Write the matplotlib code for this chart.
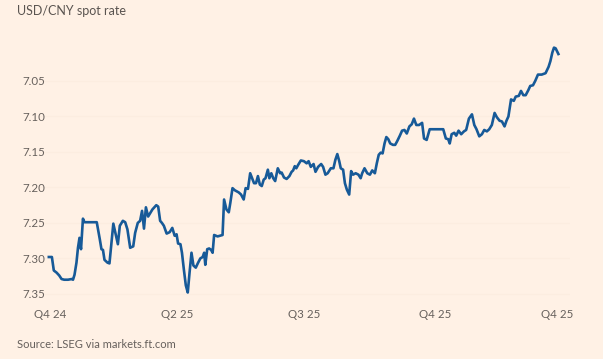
import matplotlib
matplotlib.use('Agg')
import matplotlib.pyplot as plt
import numpy as np

# USD/CNY spot rate (x = days since first point)
days = [0, 2.2, 3.6, 5.6, 7.5, 9.2, 11.1, 13.9, 16.7, 17.5, 18.6, 20, 21.1, 22.2, 23.3,
        24.7, 25.8, 34.7, 36.9, 38.1, 39.2, 40.3, 42.5, 43.9, 46.7, 48.6, 50, 51.4, 53.6,
        55.3, 56.9, 58.9, 61.1, 62.5, 64.4, 66.1, 67.5, 68.9, 70.3, 71.9, 75, 77.8, 79.2,
        80.6, 81.9, 83.3, 85.3, 87.5, 89.4, 91.1, 92.5, 93.6, 95.3, 96.4, 97.8, 99.2, 100.6,
        101.9, 103.3, 104.7, 106.4, 108.1, 109.7, 111.4, 112.5, 113.3, 114.7, 116.1, 117.5,
        118.6, 119.7, 122.2, 125.8, 126.9, 128.6, 130.3, 131.4, 133, 134.7, 137.5, 139.2,
        141.1, 142.5, 144.2, 145.8, 147.2, 148.6, 150, 151.4, 152.8, 154.2, 155.6, 156.9,
        158.6, 159.7, 161.1, 162.5, 163.9, 165.8, 167.5, 168.6, 170.3, 172.2, 174.2, 175.8,
        176.9, 178.1, 179.2, 180.6, 182.5, 184.7, 186.7, 188.1, 189.7, 191.7, 193.1, 195,
        197.2, 198.6, 200.3, 201.9, 204.2, 206.1, 207.5, 208.9, 210.3, 211.4, 213.1, 214.4,
        215.8, 217.5, 218.9, 220.3, 222.2, 224.2, 225.8, 226.9, 228.6, 230.6, 232.5, 234.2,
        236.1, 237.5, 238.9, 240.3, 241.7, 243.1, 244.4, 245.8, 247.2, 249.2, 250.8, 252.2,
        254.2, 255.8, 257.5, 259.2, 261.1, 262.8, 264.4, 266.1, 268.1, 270.3, 271.7, 273.6,
        275.8, 285.6, 287.5, 289.2, 290.3, 291.7, 293.6, 295, 296.7, 298.6, 300.6, 302.2,
        304.2, 306.4, 308.1, 309.7, 311.7, 313.6, 315.3, 317.2, 318.9, 320.8, 322.8, 324.4,
        326.4, 328.1, 330, 331.4, 332.8, 334.7, 336.7, 338.1, 340.3, 341.9, 343.6, 345.3,
        347.2, 348.6, 350.6, 352.2, 354.2, 356.9, 359.7, 361.9, 363.2, 364.6, 365.8, 367,
        368.2, 369]
rate = [7.298, 7.298, 7.317, 7.320, 7.324, 7.329, 7.330, 7.330, 7.329, 7.330, 7.323, 7.306,
        7.285, 7.271, 7.287, 7.244, 7.249, 7.249, 7.273, 7.287, 7.288, 7.302, 7.306, 7.307,
        7.251, 7.268, 7.280, 7.254, 7.247, 7.249, 7.259, 7.285, 7.283, 7.264, 7.250, 7.247,
        7.233, 7.258, 7.228, 7.241, 7.231, 7.225, 7.227, 7.247, 7.250, 7.254, 7.265, 7.263,
        7.257, 7.268, 7.266, 7.279, 7.280, 7.292, 7.316, 7.338, 7.348, 7.320, 7.292, 7.310,
        7.313, 7.306, 7.300, 7.298, 7.292, 7.309, 7.287, 7.286, 7.288, 7.292, 7.267, 7.269,
        7.267, 7.217, 7.231, 7.235, 7.222, 7.201, 7.204, 7.207, 7.210, 7.217, 7.201, 7.202,
        7.180, 7.187, 7.194, 7.194, 7.184, 7.196, 7.198, 7.189, 7.187, 7.175, 7.187, 7.180,
        7.187, 7.191, 7.173, 7.180, 7.179, 7.186, 7.188, 7.184, 7.178, 7.176, 7.170, 7.173,
        7.168, 7.162, 7.163, 7.166, 7.163, 7.171, 7.167, 7.178, 7.171, 7.167, 7.171, 7.182,
        7.180, 7.173, 7.173, 7.161, 7.153, 7.163, 7.173, 7.175, 7.194, 7.203, 7.210, 7.177,
        7.182, 7.180, 7.182, 7.187, 7.180, 7.173, 7.180, 7.182, 7.176, 7.180, 7.166, 7.154,
        7.151, 7.152, 7.138, 7.129, 7.132, 7.138, 7.140, 7.140, 7.135, 7.127, 7.120, 7.119,
        7.124, 7.114, 7.111, 7.103, 7.112, 7.112, 7.109, 7.131, 7.133, 7.118, 7.118, 7.131,
        7.132, 7.138, 7.125, 7.123, 7.127, 7.120, 7.125, 7.121, 7.119, 7.103, 7.097, 7.112,
        7.118, 7.128, 7.125, 7.119, 7.121, 7.118, 7.112, 7.095, 7.101, 7.106, 7.107, 7.114,
        7.106, 7.100, 7.076, 7.078, 7.072, 7.071, 7.064, 7.070, 7.070, 7.063, 7.057, 7.056,
        7.050, 7.041, 7.041, 7.039, 7.030, 7.022, 7.010, 7.003, 7.004, 7.009, 7.012]

tick_days = [0.8, 92.8, 185.2, 279.6, 368]
tick_labels = ['Q4 24', 'Q2 25', 'Q3 25', 'Q4 25', 'Q4 25']
y_ticks = [7.05, 7.10, 7.15, 7.20, 7.25, 7.30, 7.35]

BG = '#FFF1E5'
LINE = '#175a98'
GREY = '#66605C'

plt.rcParams['font.family'] = ['Lato', 'DejaVu Sans']

fig = plt.figure(figsize=(6.03, 3.59), dpi=100, facecolor=BG)
ax = fig.add_axes([40 / 603, 1 - 301 / 359, 530 / 603, 255.5 / 359], facecolor=BG)

ax.plot(days, rate, color=LINE, lw=1.9, solid_joinstyle='round')

ax.set_xlim(-6.4, 377.4)
ax.set_ylim(7.36, 7.00)
ax.set_yticks(y_ticks)
ax.set_yticklabels([f'{v:.2f}' for v in y_ticks])
ax.set_xticks(tick_days)
ax.set_xticklabels(tick_labels)

ax.tick_params(axis='y', length=0, pad=13, labelsize=8.3, labelcolor=GREY)
ax.tick_params(axis='x', length=0, pad=6, labelsize=8.3, labelcolor=GREY)
for lab in ax.get_yticklabels():
    lab.set_horizontalalignment('left')

# gridlines are barely visible in the original
ax.grid(axis='y', color='#FCEDE0', lw=0.8)
ax.set_axisbelow(True)
for s in ax.spines.values():
    s.set_visible(False)

fig.text(17 / 603, 1 - 11 / 359, 'USD/CNY spot rate', fontsize=9.0, color='#5a5450',
         ha='left', va='center')
fig.text(17 / 603, 1 - 344 / 359, 'Source: LSEG via markets.ft.com', fontsize=8.0,
         color=GREY, ha='left', va='center')

fig.savefig('out.png', dpi=100, facecolor=BG)
